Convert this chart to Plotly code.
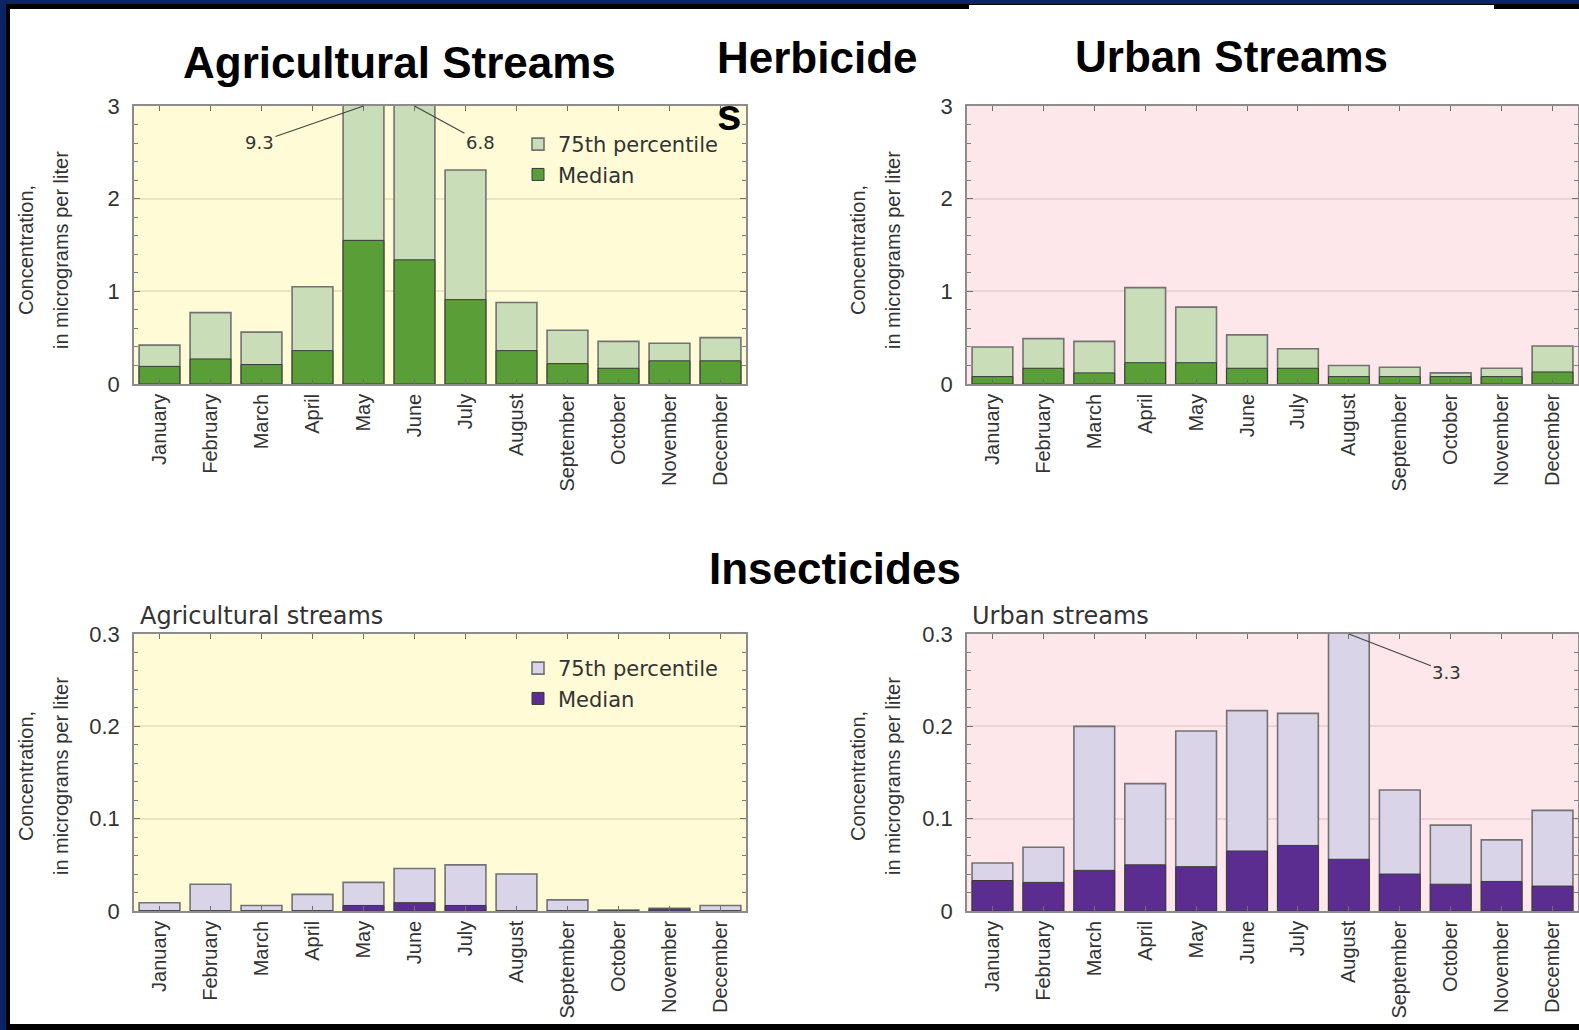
import plotly.graph_objects as go

W, H = 1579, 1030

months = ["January", "February", "March", "April", "May", "June", "July",
          "August", "September", "October", "November", "December"]

herb_ag_p75 = [0.42, 0.77, 0.56, 1.05, 9.3, 6.8, 2.31, 0.88, 0.58, 0.46, 0.44, 0.50]
herb_ag_med = [0.19, 0.27, 0.21, 0.36, 1.55, 1.34, 0.91, 0.36, 0.22, 0.17, 0.25, 0.25]
herb_urb_p75 = [0.40, 0.49, 0.46, 1.04, 0.83, 0.53, 0.38, 0.20, 0.18, 0.12, 0.17, 0.41]
herb_urb_med = [0.08, 0.17, 0.12, 0.23, 0.23, 0.17, 0.17, 0.08, 0.08, 0.08, 0.08, 0.13]
ins_ag_p75 = [0.009, 0.029, 0.006, 0.018, 0.031, 0.046, 0.050, 0.040, 0.012, 0.001, 0.003, 0.006]
ins_ag_med = [0, 0, 0, 0, 0.006, 0.009, 0.006, 0, 0, 0, 0.002, 0]
ins_urb_p75 = [0.052, 0.069, 0.200, 0.138, 0.195, 0.217, 0.214, 3.3, 0.131, 0.093, 0.077, 0.109]
ins_urb_med = [0.033, 0.031, 0.044, 0.050, 0.048, 0.065, 0.071, 0.056, 0.040, 0.029, 0.032, 0.027]

herb_ticks = [0, 1, 2, 3]
herb_ticktext = ["0", "1", "2", "3"]
ins_ticks = [0, 0.1, 0.2, 0.3]
ins_ticktext = ["0", "0.1", "0.2", "0.3"]

LIGHT_GREEN = "#c9ddb8"
DARK_GREEN = "#5a9e37"
LAVENDER = "#dad4e8"
PURPLE = "#5c2d91"
YELLOW_BG = "#fffbd6"
PINK_BG = "#fde7ea"
NAVY = "#0b2468"
TXT = "#333333"


def px(x):
    return x / W


def py(y):
    return 1 - y / H


fig = go.Figure()

panels = [
    ("x", "y", herb_ag_p75, herb_ag_med, LIGHT_GREEN, DARK_GREEN, "legend", True),
    ("x2", "y2", herb_urb_p75, herb_urb_med, LIGHT_GREEN, DARK_GREEN, "legend", False),
    ("x3", "y3", ins_ag_p75, ins_ag_med, LAVENDER, PURPLE, "legend2", True),
    ("x4", "y4", ins_urb_p75, ins_urb_med, LAVENDER, PURPLE, "legend2", False),
]
for xa, ya, p75, med, c1, c2, leg, show in panels:
    fig.add_trace(go.Bar(x=months, y=p75, xaxis=xa, yaxis=ya, name="75th percentile",
                         marker=dict(color=c1, line=dict(color="#727272", width=1.6)),
                         legend=leg, showlegend=show))
    fig.add_trace(go.Bar(x=months, y=med, xaxis=xa, yaxis=ya, name="Median",
                         marker=dict(color=c2, line=dict(color="#3a3a3a", width=1)),
                         legend=leg, showlegend=show))

left_dom = [px(134), px(746)]
right_dom = [px(967), px(1578)]
top_dom = [py(384), py(106)]
bot_dom = [py(911), py(634)]

xcommon = dict(type="category", tickangle=-90, showline=True, mirror="ticks",
               linecolor="#8c8c8c", linewidth=1.5, ticks="inside", ticklen=5,
               tickcolor="#707070", tickfont=dict(family="Liberation Sans, Arial", size=20, color=TXT),
               showgrid=False, zeroline=False, fixedrange=True, automargin=False)


def ycommon(rng, tv, tt, dminor, gridc):
    return dict(range=rng, tickvals=tv, ticktext=tt, showline=True, mirror="ticks",
                linecolor="#8c8c8c", linewidth=1.5, ticks="inside", ticklen=6,
                tickcolor="#707070", ticklabelstandoff=8,
                tickfont=dict(family="Liberation Sans, Arial", size=22, color=TXT),
                showgrid=True, gridcolor=gridc, gridwidth=1.5, zeroline=False,
                minor=dict(dtick=dminor, ticks="inside", ticklen=4, tickcolor="#808080", showgrid=False),
                fixedrange=True, automargin=False)


fig.update_layout(
    template="none",
    width=W, height=H, margin=dict(l=0, r=0, t=0, b=0, autoexpand=False),
    paper_bgcolor="white", plot_bgcolor="rgba(0,0,0,0)", barmode="overlay", bargap=0.2,
    xaxis=dict(domain=left_dom, anchor="y", **xcommon),
    xaxis2=dict(domain=right_dom, anchor="y2", **xcommon),
    xaxis3=dict(domain=left_dom, anchor="y3", **xcommon),
    xaxis4=dict(domain=right_dom, anchor="y4", **xcommon),
    yaxis=dict(domain=top_dom, anchor="x", **ycommon([0, 3], herb_ticks, herb_ticktext, 0.2, "#ebe5bd")),
    yaxis2=dict(domain=top_dom, anchor="x2", **ycommon([0, 3], herb_ticks, herb_ticktext, 0.2, "#ecd3d6")),
    yaxis3=dict(domain=bot_dom, anchor="x3", **ycommon([0, 0.3], ins_ticks, ins_ticktext, 0.02, "#ebe5bd")),
    yaxis4=dict(domain=bot_dom, anchor="x4", **ycommon([0, 0.3], ins_ticks, ins_ticktext, 0.02, "#ecd3d6")),
    legend=dict(x=px(518), y=py(124), xanchor="left", yanchor="top", bgcolor="rgba(0,0,0,0)",
                font=dict(family="DejaVu Sans", size=21, color=TXT), tracegroupgap=0),
    legend2=dict(x=px(518), y=py(648), xanchor="left", yanchor="top", bgcolor="rgba(0,0,0,0)",
                 font=dict(family="DejaVu Sans", size=21, color=TXT), tracegroupgap=0),
    showlegend=True,
)

for xa, ya, col in [("x", "y", YELLOW_BG), ("x2", "y2", PINK_BG), ("x3", "y3", YELLOW_BG), ("x4", "y4", PINK_BG)]:
    fig.add_shape(type="rect", xref=f"{xa} domain", yref=f"{ya} domain", x0=0, x1=1, y0=0, y1=1,
                  fillcolor=col, line=dict(width=0), layer="below")

# slide frame
fig.add_shape(type="rect", xref="paper", yref="paper", x0=0, x1=px(6), y0=0, y1=1,
              fillcolor=NAVY, line=dict(width=0))
fig.add_shape(type="rect", xref="paper", yref="paper", x0=px(6), x1=px(10), y0=py(1024), y1=py(4),
              fillcolor="black", line=dict(width=0))
fig.add_shape(type="rect", xref="paper", yref="paper", x0=0, x1=1, y0=py(4), y1=1,
              fillcolor=NAVY, line=dict(width=0))
fig.add_shape(type="rect", xref="paper", yref="paper", x0=px(6), x1=1, y0=py(9), y1=py(4),
              fillcolor="black", line=dict(width=0))
fig.add_shape(type="rect", xref="paper", yref="paper", x0=px(969), x1=px(1494), y0=py(10), y1=py(5),
              fillcolor="white", line=dict(width=0))
fig.add_shape(type="rect", xref="paper", yref="paper", x0=px(6), x1=1, y0=0, y1=py(1024),
              fillcolor="black", line=dict(width=0))

ann = []
title_font = dict(family="Liberation Sans, Arial", size=44, color="black", weight="bold")
ann.append(dict(text="Agricultural Streams", x=px(399), y=py(63), xref="paper", yref="paper",
                showarrow=False, font=title_font, xanchor="center", yanchor="middle"))
ann.append(dict(text="Urban Streams", x=px(1231), y=py(56), xref="paper", yref="paper",
                showarrow=False, font=title_font, xanchor="center", yanchor="middle"))
ann.append(dict(text="Herbicide<br>s", x=px(715), y=py(86), xref="paper", yref="paper",
                showarrow=False, font=title_font, xanchor="left", yanchor="middle", align="left"))
ann.append(dict(text="Insecticides", x=px(835), y=py(568), xref="paper", yref="paper",
                showarrow=False, font=title_font, xanchor="center", yanchor="middle"))

sub_font = dict(family="DejaVu Sans", size=24, color=TXT)
ann.append(dict(text="Agricultural streams", x=px(138), y=py(616), xref="paper", yref="paper",
                showarrow=False, font=sub_font, xanchor="left", yanchor="middle"))
ann.append(dict(text="Urban streams", x=px(970), y=py(616), xref="paper", yref="paper",
                showarrow=False, font=sub_font, xanchor="left", yanchor="middle"))

ax_font = dict(family="Liberation Sans, Arial", size=20, color=TXT)
for xl1, xl2, yc in [(26, 61, 250), (858, 893, 250), (26, 61, 776), (858, 893, 776)]:
    ann.append(dict(text="Concentration,", x=px(xl1), y=py(yc), xref="paper", yref="paper",
                    showarrow=False, font=ax_font, textangle=-90, xanchor="center", yanchor="middle"))
    ann.append(dict(text="in micrograms per liter", x=px(xl2), y=py(yc), xref="paper", yref="paper",
                    showarrow=False, font=ax_font, textangle=-90, xanchor="center", yanchor="middle"))

call_font = dict(family="DejaVu Sans", size=18, color=TXT)
ann.append(dict(text=str(herb_ag_p75[4]), x="May", y=3, xref="x", yref="y", showarrow=True,
                arrowhead=0, arrowwidth=1.2, arrowcolor="#444", ax=-104, ay=36, font=call_font))
ann.append(dict(text=str(herb_ag_p75[5]), x="June", y=3, xref="x", yref="y", showarrow=True,
                arrowhead=0, arrowwidth=1.2, arrowcolor="#444", ax=66, ay=36, font=call_font))
ann.append(dict(text=str(ins_urb_p75[7]), x="August", y=0.3, xref="x4", yref="y4", showarrow=True,
                arrowhead=0, arrowwidth=1.2, arrowcolor="#444", ax=98, ay=38, font=call_font))

fig.update_layout(annotations=ann)

fig.write_html("out.html", config={"displayModeBar": False},
               post_script="document.body.style.margin='0';document.body.style.overflow='hidden';")
